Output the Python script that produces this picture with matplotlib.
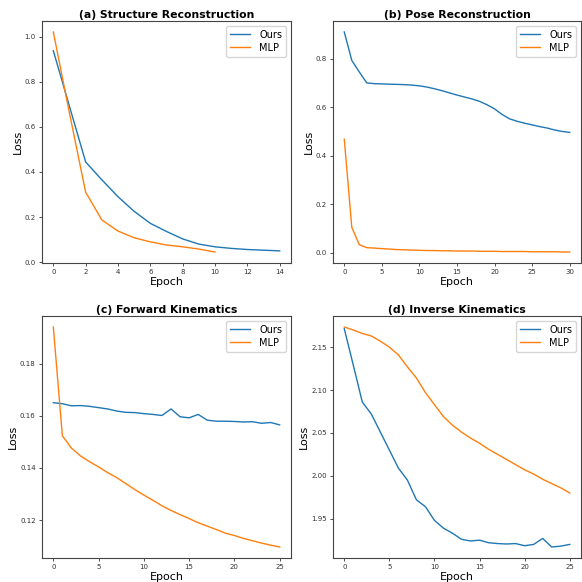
import matplotlib
matplotlib.use("Agg")
import matplotlib.pyplot as plt

# (a) Structure Reconstruction
a_ours = [0.937, 0.69, 0.444, 0.365, 0.29, 0.225, 0.172, 0.136, 0.103, 0.080, 0.068, 0.061, 0.056, 0.053, 0.050]
a_mlp = [1.02, 0.66, 0.31, 0.187, 0.138, 0.108, 0.090, 0.076, 0.068, 0.058, 0.045]

# (b) Pose Reconstruction
b_ours = [0.91, 0.793, 0.745, 0.700, 0.697, 0.696, 0.695, 0.694, 0.693, 0.691, 0.688, 0.683, 0.676,
          0.668, 0.659, 0.650, 0.642, 0.634, 0.624, 0.610, 0.593, 0.570, 0.552, 0.542, 0.534,
          0.527, 0.520, 0.514, 0.506, 0.500, 0.496]
b_mlp = [0.468, 0.105, 0.033, 0.021, 0.019, 0.017, 0.015, 0.013, 0.012, 0.011, 0.010, 0.009, 0.009,
         0.008, 0.008, 0.007, 0.007, 0.007, 0.006, 0.006, 0.006, 0.005, 0.005, 0.005, 0.005,
         0.004, 0.004, 0.004, 0.004, 0.003, 0.003]

# (c) Forward Kinematics
c_ours = [0.1650, 0.1646, 0.1638, 0.1639, 0.1636, 0.1631, 0.1626, 0.1618, 0.1613, 0.1612, 0.1608,
          0.1605, 0.1601, 0.1626, 0.1596, 0.1592, 0.1605, 0.1583, 0.1579, 0.1579, 0.1578, 0.1576,
          0.1577, 0.1571, 0.1574, 0.1565]
c_mlp = [0.194, 0.1523, 0.1476, 0.1446, 0.1424, 0.1404, 0.1382, 0.1363, 0.1340, 0.1317, 0.1296,
         0.1276, 0.1255, 0.1237, 0.1221, 0.1206, 0.1190, 0.1177, 0.1164, 0.1150, 0.1141, 0.1130,
         0.1121, 0.1112, 0.1104, 0.1097]

# (d) Inverse Kinematics
d_ours = [2.1715, 2.129, 2.086, 2.072, 2.051, 2.030, 2.009, 1.995, 1.972, 1.964, 1.948, 1.939,
          1.933, 1.926, 1.924, 1.925, 1.922, 1.921, 1.9205, 1.921, 1.9185, 1.920, 1.927, 1.917,
          1.918, 1.920]
d_mlp = [2.1735, 2.170, 2.166, 2.163, 2.157, 2.150, 2.141, 2.127, 2.114, 2.097, 2.083, 2.069,
         2.059, 2.051, 2.044, 2.038, 2.031, 2.025, 2.019, 2.013, 2.007, 2.002, 1.996, 1.991,
         1.986, 1.980]

titles = ["(a) Structure Reconstruction", "(b) Pose Reconstruction",
          "(c) Forward Kinematics", "(d) Inverse Kinematics"]
series = [(a_ours, a_mlp), (b_ours, b_mlp), (c_ours, c_mlp), (d_ours, d_mlp)]

W = H = 582
fig = plt.figure(figsize=(W / 100, H / 100), dpi=100)

# axes boxes in pixels: left, top, right, bottom
boxes = [(42, 21, 291, 263), (333, 21, 581, 263), (42, 316, 291, 558), (333, 316, 581, 558)]

for title, (ours, mlp), (l, t, r, b) in zip(titles, series, boxes):
    ax = fig.add_axes([l / W, 1 - b / H, (r - l) / W, (b - t) / H])
    ax.plot(range(len(ours)), ours, color="#1f77b4", lw=1.0, label="Ours")
    ax.plot(range(len(mlp)), mlp, color="#ff7f0e", lw=1.0, label="MLP")
    ax.set_title(title, fontsize=7.8, fontweight="bold", pad=2.5)
    ax.set_xlabel("Epoch", fontsize=8, labelpad=1)
    ax.set_ylabel("Loss", fontsize=8, labelpad=1.5)
    ax.tick_params(labelsize=5, length=2.5, width=0.6, pad=2, colors="#333333")
    for s in ax.spines.values():
        s.set_linewidth(0.8)
        s.set_color("#444444")
    ax.legend(fontsize=7, loc="upper right", handlelength=2.0, borderpad=0.4,
              labelspacing=0.3, handletextpad=1.0)

plt.savefig("out.png", dpi=100)
